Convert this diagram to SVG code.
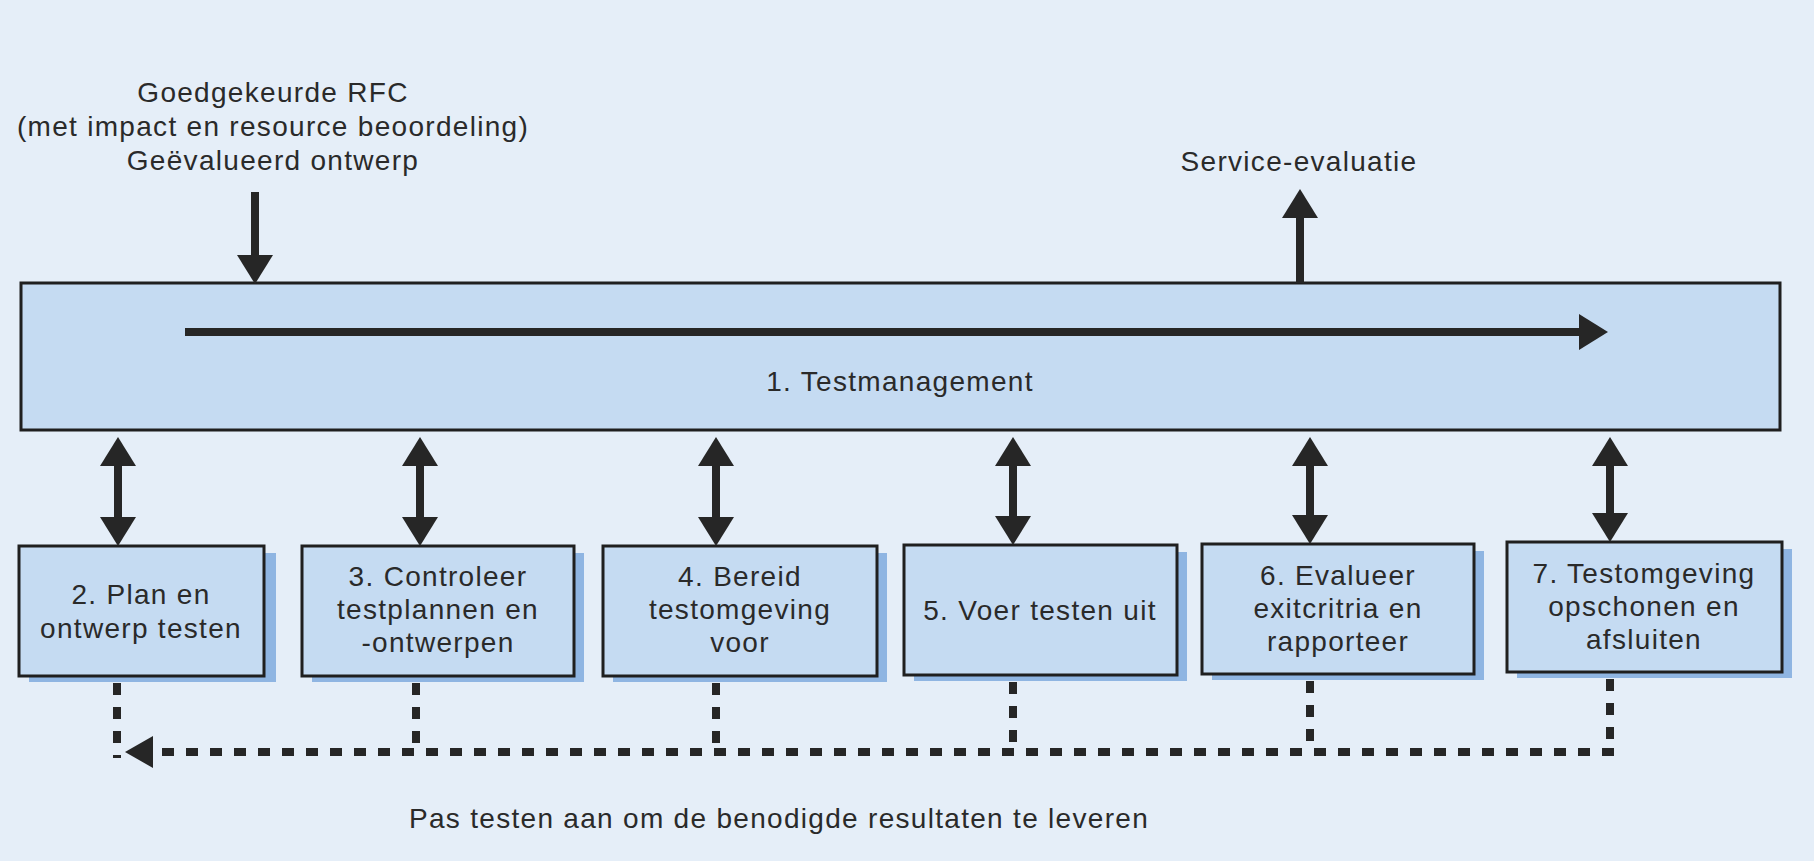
<svg xmlns="http://www.w3.org/2000/svg" width="1814" height="861" viewBox="0 0 1814 861">
<defs>
<style>
text{font-family:"Liberation Sans",Arial,sans-serif;font-size:28px;letter-spacing:1.3px;fill:#2a2a2a;text-anchor:middle}
.box{fill:#c5dbf2;stroke:#1f1f1f;stroke-width:3}
.shadow{fill:#8fb5e2}
.solid{stroke:#262626;stroke-width:8;fill:none}
.dash{stroke:#262626;stroke-width:8;fill:none;stroke-dasharray:12 12}
</style>
<marker id="ah" markerUnits="userSpaceOnUse" markerWidth="30" markerHeight="36" viewBox="0 0 30 36" refX="0" refY="18" orient="auto-start-reverse">
<path d="M0,0 L29,18 L0,36 Z" fill="#262626"/>
</marker>
<marker id="ahd" markerUnits="userSpaceOnUse" markerWidth="30" markerHeight="32" viewBox="0 0 30 32" refX="0" refY="16" orient="auto">
<path d="M0,0 L28,16 L0,32 Z" fill="#262626"/>
</marker>
</defs>
<rect x="0" y="0" width="1814" height="861" fill="#e5eef8"/>

<g id="input-label">
<text x="273" y="102">Goedgekeurde RFC</text>
<text x="273" y="136">(met impact en resource beoordeling)</text>
<text x="273" y="170">Geëvalueerd ontwerp</text>
</g>
<g id="output-label">
<text x="1299" y="171">Service-evaluatie</text>
</g>

<g id="n1">
<rect class="box" x="21" y="283" width="1759" height="147"/>
<text x="900" y="391">1. Testmanagement</text>
</g>

<g id="n2">
<rect class="shadow" x="29" y="553" width="247" height="129"/>
<rect class="box" x="19" y="546" width="245" height="130"/>
<text x="141" y="604">2. Plan en</text>
<text x="141" y="638">ontwerp testen</text>
</g>
<g id="n3">
<rect class="shadow" x="312" y="553" width="272" height="129"/>
<rect class="box" x="302" y="546" width="272" height="130"/>
<text x="438" y="586">3. Controleer</text>
<text x="438" y="619">testplannen en</text>
<text x="438" y="652">-ontwerpen</text>
</g>
<g id="n4">
<rect class="shadow" x="613" y="553" width="274" height="129"/>
<rect class="box" x="603" y="546" width="274" height="130"/>
<text x="740" y="586">4. Bereid</text>
<text x="740" y="619">testomgeving</text>
<text x="740" y="652">voor</text>
</g>
<g id="n5">
<rect class="shadow" x="914" y="552" width="273" height="129"/>
<rect class="box" x="904" y="545" width="273" height="130"/>
<text x="1040" y="620">5. Voer testen uit</text>
</g>
<g id="n6">
<rect class="shadow" x="1212" y="551" width="272" height="129"/>
<rect class="box" x="1202" y="544" width="272" height="130"/>
<text x="1338" y="585">6. Evalueer</text>
<text x="1338" y="618">exitcritria en</text>
<text x="1338" y="651">rapporteer</text>
</g>
<g id="n7">
<rect class="shadow" x="1517" y="549" width="275" height="129"/>
<rect class="box" x="1507" y="542" width="275" height="130"/>
<text x="1644" y="583">7. Testomgeving</text>
<text x="1644" y="616">opschonen en</text>
<text x="1644" y="649">afsluiten</text>
</g>

<g id="feedback-label">
<text x="779" y="828">Pas testen aan om de benodigde resultaten te leveren</text>
</g>

<g id="connectors">
<line class="solid" x1="255" y1="192" x2="255" y2="255" marker-end="url(#ah)"/>
<line class="solid" x1="1300" y1="283" x2="1300" y2="218" marker-end="url(#ah)"/>
<line class="solid" x1="185" y1="332" x2="1579" y2="332" marker-end="url(#ah)"/>

<line class="solid" x1="118" y1="466" x2="118" y2="517" marker-start="url(#ah)" marker-end="url(#ah)"/>
<line class="solid" x1="420" y1="466" x2="420" y2="517" marker-start="url(#ah)" marker-end="url(#ah)"/>
<line class="solid" x1="716" y1="466" x2="716" y2="517" marker-start="url(#ah)" marker-end="url(#ah)"/>
<line class="solid" x1="1013" y1="466" x2="1013" y2="516" marker-start="url(#ah)" marker-end="url(#ah)"/>
<line class="solid" x1="1310" y1="466" x2="1310" y2="515" marker-start="url(#ah)" marker-end="url(#ah)"/>
<line class="solid" x1="1610" y1="466" x2="1610" y2="513" marker-start="url(#ah)" marker-end="url(#ah)"/>

<line class="dash" x1="117" y1="683" x2="117" y2="758"/>
<line class="dash" x1="416" y1="683" x2="416" y2="752"/>
<line class="dash" x1="716" y1="683" x2="716" y2="752"/>
<line class="dash" x1="1013" y1="682" x2="1013" y2="752"/>
<line class="dash" x1="1310" y1="681" x2="1310" y2="752"/>
<line class="dash" x1="1610" y1="679" x2="1610" y2="752"/>
<line class="dash" x1="1614" y1="752" x2="153" y2="752" marker-end="url(#ahd)"/>
</g>
</svg>
